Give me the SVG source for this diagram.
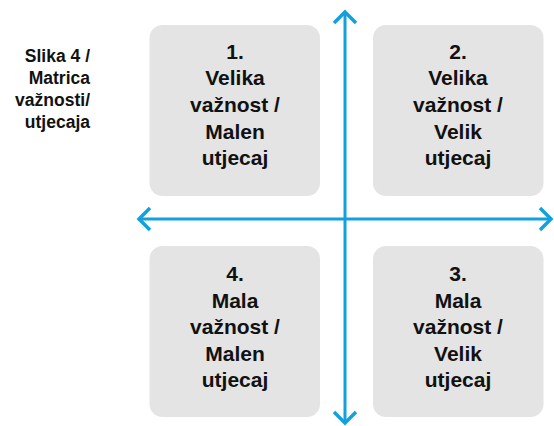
<svg xmlns="http://www.w3.org/2000/svg" width="554" height="426" viewBox="0 0 554 426">
<defs>
<style>
.box{fill:#e4e4e4;}
.t{font-family:"Liberation Sans",Arial,sans-serif;font-weight:bold;font-size:21px;fill:#111;text-anchor:middle;}
.cap{font-family:"Liberation Sans",Arial,sans-serif;font-weight:bold;font-size:17.5px;fill:#111;text-anchor:end;}
.ax{stroke:#12a0de;stroke-width:3;fill:none;}
.hd{stroke:#12a0de;stroke-width:3.5;fill:none;stroke-linecap:butt;stroke-linejoin:miter;}
</style>
</defs>
<rect width="554" height="426" fill="#fff"/>
<g id="caption">
<text class="cap" x="90" y="62">Slika 4 /</text>
<text class="cap" x="90" y="84">Matrica</text>
<text class="cap" x="90" y="106">važnosti/</text>
<text class="cap" x="90" y="128">utjecaja</text>
</g>
<g id="node1">
<rect class="box" x="149.5" y="25" width="170.5" height="171" rx="13"/>
<text class="t" x="235" y="58.5">1.</text>
<text class="t" x="235" y="85.2">Velika</text>
<text class="t" x="235" y="111.9">važnost /</text>
<text class="t" x="235" y="138.6">Malen</text>
<text class="t" x="235" y="165.3">utjecaj</text>
</g>
<g id="node2">
<rect class="box" x="373" y="25" width="170.5" height="171" rx="13"/>
<text class="t" x="458" y="58.5">2.</text>
<text class="t" x="458" y="85.2">Velika</text>
<text class="t" x="458" y="111.9">važnost /</text>
<text class="t" x="458" y="138.6">Velik</text>
<text class="t" x="458" y="165.3">utjecaj</text>
</g>
<g id="node4">
<rect class="box" x="149.5" y="246" width="170.5" height="171" rx="13"/>
<text class="t" x="235" y="281">4.</text>
<text class="t" x="235" y="307.6">Mala</text>
<text class="t" x="235" y="334.2">važnost /</text>
<text class="t" x="235" y="360.8">Malen</text>
<text class="t" x="235" y="387.4">utjecaj</text>
</g>
<g id="node3">
<rect class="box" x="373" y="246" width="170.5" height="171" rx="13"/>
<text class="t" x="458" y="281">3.</text>
<text class="t" x="458" y="307.6">Mala</text>
<text class="t" x="458" y="334.2">važnost /</text>
<text class="t" x="458" y="360.8">Velik</text>
<text class="t" x="458" y="387.4">utjecaj</text>
</g>
<g id="connectors">
<line class="ax" x1="345" y1="12" x2="345" y2="423"/>
<line class="ax" x1="139" y1="219" x2="551" y2="219"/>
<polyline class="hd" points="334,23 345,12 356,23"/>
<polyline class="hd" points="334,412 345,423 356,412"/>
<polyline class="hd" points="150,208 139,219 150,230"/>
<polyline class="hd" points="540,208 551,219 540,230"/>
</g>
</svg>
